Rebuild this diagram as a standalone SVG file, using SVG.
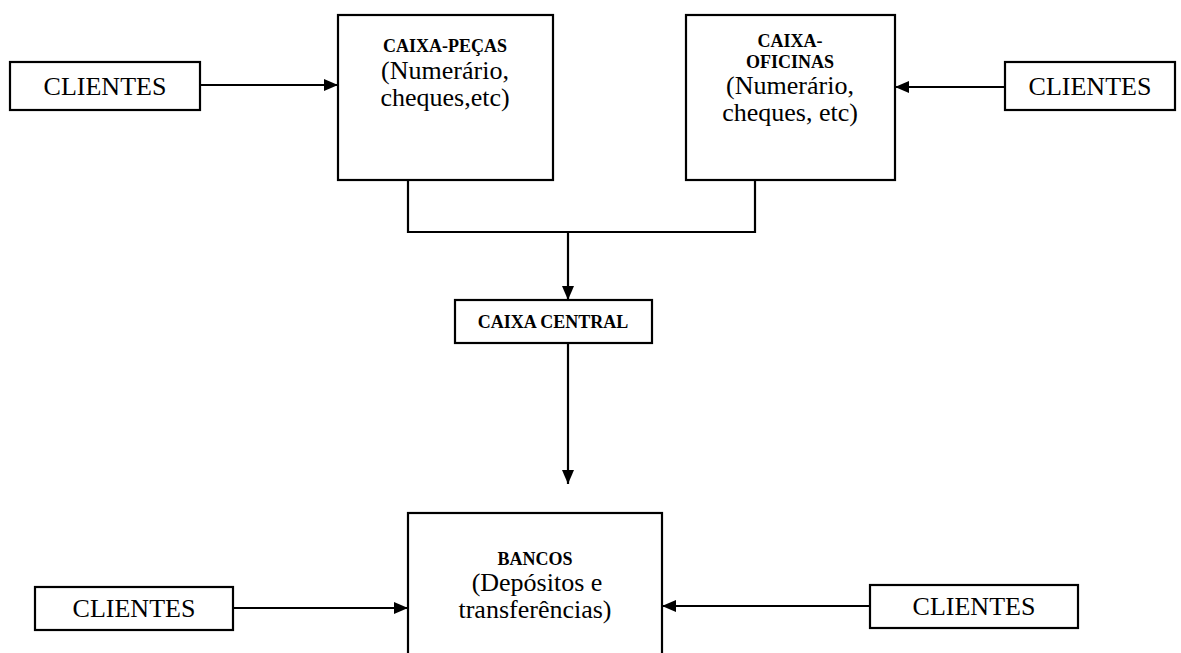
<svg xmlns="http://www.w3.org/2000/svg" width="1181" height="653" viewBox="0 0 1181 653">
<style>
.box{fill:#fff;stroke:#000;stroke-width:2.2}
.t{font-family:"Liberation Serif",serif;font-size:26px;fill:#000;text-anchor:middle}
.b{font-family:"Liberation Serif",serif;font-size:18px;font-weight:bold;fill:#000;text-anchor:middle}
.c{fill:none;stroke:#000;stroke-width:2.2}
</style>
<defs>
<marker id="ah" viewBox="0 0 14 12" refX="14" refY="6" markerWidth="14" markerHeight="12" markerUnits="userSpaceOnUse" orient="auto">
<path d="M0,0 L14,6 L0,12 z" fill="#000"/>
</marker>
</defs>
<rect width="1181" height="653" fill="#fff"/>
<g id="connectors">
<line class="c" x1="200" y1="85" x2="338" y2="85" marker-end="url(#ah)"/>
<line class="c" x1="1005" y1="87" x2="895" y2="87" marker-end="url(#ah)"/>
<polyline class="c" points="408,180 408,232 755,232 755,180"/>
<line class="c" x1="568" y1="232" x2="568" y2="300" marker-end="url(#ah)"/>
<line class="c" x1="568" y1="343" x2="568" y2="484" marker-end="url(#ah)"/>
<line class="c" x1="233" y1="608" x2="408" y2="608" marker-end="url(#ah)"/>
<line class="c" x1="870" y1="606" x2="662" y2="606" marker-end="url(#ah)"/>
</g>
<g id="clientes-tl">
<rect class="box" x="10" y="62" width="190" height="48"/>
<text class="t" x="105" y="95">CLIENTES</text>
</g>
<g id="caixa-pecas">
<rect class="box" x="338" y="15" width="215" height="165"/>
<text class="b" x="445" y="52">CAIXA-PEÇAS</text>
<text class="t" x="445" y="79">(Numerário,</text>
<text class="t" x="445" y="106">cheques,etc)</text>
</g>
<g id="caixa-oficinas">
<rect class="box" x="686" y="15" width="209" height="165"/>
<text class="b" x="790" y="47">CAIXA-</text>
<text class="b" x="790" y="68">OFICINAS</text>
<text class="t" x="790" y="94">(Numerário,</text>
<text class="t" x="790" y="121">cheques, etc)</text>
</g>
<g id="clientes-tr">
<rect class="box" x="1005" y="62" width="170" height="48"/>
<text class="t" x="1090" y="95">CLIENTES</text>
</g>
<g id="caixa-central">
<rect class="box" x="455" y="300" width="197" height="43"/>
<text class="b" x="553" y="328">CAIXA CENTRAL</text>
</g>
<g id="bancos">
<rect class="box" x="408" y="513" width="254" height="150"/>
<text class="b" x="535" y="565">BANCOS</text>
<text class="t" x="537" y="591">(Depósitos e</text>
<text class="t" x="535" y="618">transferências)</text>
</g>
<g id="clientes-bl">
<rect class="box" x="35" y="587" width="198" height="43"/>
<text class="t" x="134" y="617">CLIENTES</text>
</g>
<g id="clientes-br">
<rect class="box" x="870" y="585" width="208" height="43"/>
<text class="t" x="974" y="615">CLIENTES</text>
</g>
</svg>
